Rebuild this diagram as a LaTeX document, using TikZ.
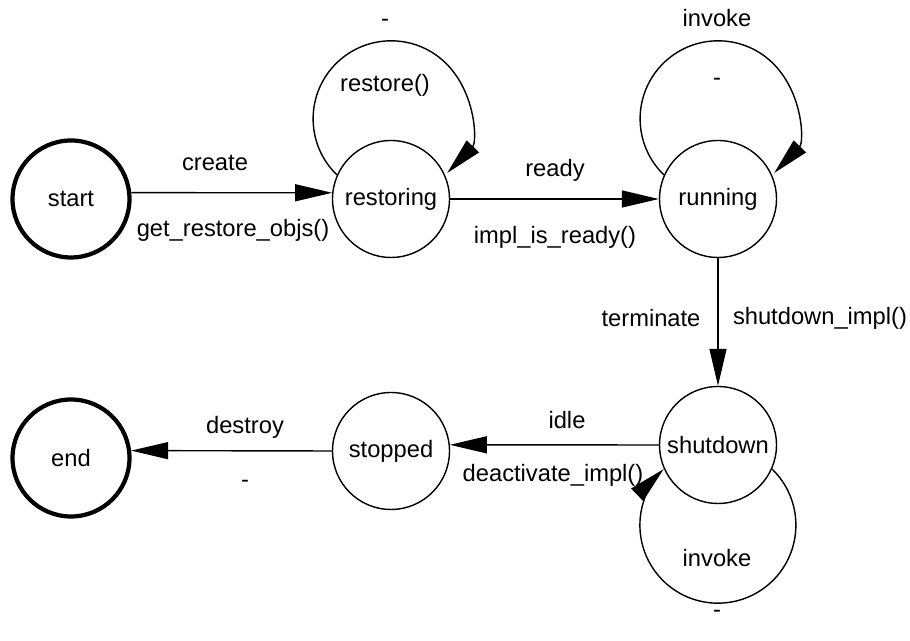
\documentclass[tikz,border=0pt]{standalone}
\usepackage{fontspec}
\setmainfont{Liberation Sans}
\usetikzlibrary{arrows.meta}

\begin{document}
\begin{tikzpicture}[x=0.02cm,y=0.02cm,
	>={Triangle[length=0.74cm,width=0.34cm]},
	every node/.style={font=\fontsize{13.5}{16}\selectfont},
	state/.style={circle,draw,line width=0.8pt,minimum size=2.34cm,inner sep=0pt},
	terminal/.style={state,line width=2.4pt},
	trans/.style={->,line width=0.8pt}]
	\useasboundingbox (0,0) rectangle (910,641);

	%states
	\node[terminal] (start) at (71,442) {start};
	\node[state] (restoring) at (391,442) {restoring};
	\node[state] (running) at (718,442) {running};
	\node[state] (shutdown) at (718,196) {shutdown};
	\node[state] (stopped) at (391,190) {stopped};
	\node[terminal] (end) at (71,183) {end};

	%start -> restoring
	\draw[trans] (start.6)--(restoring.174);
		\node (lcreate) at (215,478) {create};
		\node (lgetobjs) at (233,411) {get\_restore\_objs()};

	%restoring self loop
	\draw[trans] (restoring.156) arc[start angle=226,end angle=-44,radius=78];
		\node (lrestdash) at (385,618) {-};
		\node (lrestore) at (385,556) {restore()};

	%restoring -> running
	\draw[trans] (restoring.east)--(running.west);
		\node (lready) at (555,471) {ready};
		\node (limplready) at (555,404) {impl\_is\_ready()};

	%running self loop
	\draw[trans] (running.156) arc[start angle=226,end angle=-44,radius=78];
		\node (lruninvoke) at (717,623) {invoke};
		\node (lrundash) at (717,559) {-};

	%running -> shutdown
	\draw[trans] (running.south)--(shutdown.north);
		\node (lterminate) at (651,323) {terminate};
		\node (lshutimpl) at (820,323) {shutdown\_impl()};

	%shutdown self loop
	\draw[trans] (shutdown.-24) arc[start angle=46,end angle=-226,radius=78];
		\node (lshutinvoke) at (717,83) {invoke};
		\node (lshutdash) at (717,27) {-};

	%shutdown -> stopped
	\draw[trans] (shutdown.west)--(stopped.6);
		\node (lidle) at (567,221) {idle};
		\node (ldeact) at (553,166) {deactivate\_impl()};

	%stopped -> end
	\draw[trans] (stopped.west)--(end.7);
		\node (ldestroy) at (245,214) {destroy};
		\node (lenddash) at (245,157) {-};
\end{tikzpicture}
\end{document}
